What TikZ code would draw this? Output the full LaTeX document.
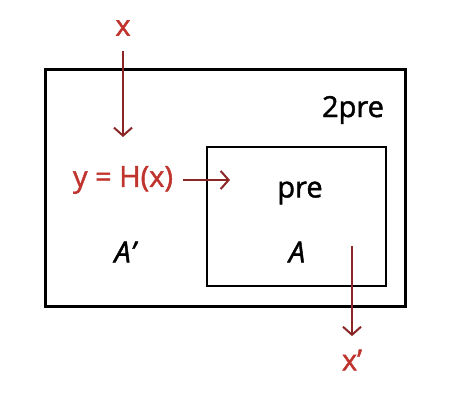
\documentclass[tikz,border=0pt]{standalone}
\usepackage{fontspec}
\setmainfont{Open Sans}[BoldFont={Open Sans},BoldFeatures={FakeBold=1.5},
  BoldItalicFont={Open Sans Italic},BoldItalicFeatures={FakeBold=1.5}]
\usepackage{tikz}
\usetikzlibrary{arrows.meta}
\definecolor{hashred}{RGB}{192,52,46}
\definecolor{arrowred}{RGB}{138,38,38}

\begin{document}
\begin{tikzpicture}[x=1pt,y=1pt,
  every node/.style={font=\fontsize{29}{33}\selectfont\bfseries},
  lbl/.style={text=hashred},
  flow/.style={draw=arrowred,line width=2pt,-{Straight Barb[length=8pt,width=18pt,line width=2pt]}}]
\useasboundingbox (0,0) rectangle (464,400);
% boxes
\draw[line width=3pt] (45,94) rectangle (405,330);
\draw[line width=2.2pt] (207,114) rectangle (386,253);
\node (big) at (353,290) {2pre};
\node (small) at (300,207) {pre};
\node (setA2) at (125,148) {\itshape A'};
\node (setA) at (297,148) {\itshape A};
% hashing
\node[lbl] (x) at (123,372) {x};
\coordinate (xin) at (123,263);
\draw[flow,shorten <=12pt] (x) -- (xin);
\node[lbl] (hx) at (123,220) {y = H(x)};
\coordinate (hin) at (230,220);
\draw[flow,shorten <=6pt] (hx.east) -- (hin);
\coordinate (aout) at (352,154);
\node[lbl] (xp) at (352,40) {x'};
\draw[flow,shorten >=10pt] (aout) -- (xp);
\end{tikzpicture}
\end{document}
